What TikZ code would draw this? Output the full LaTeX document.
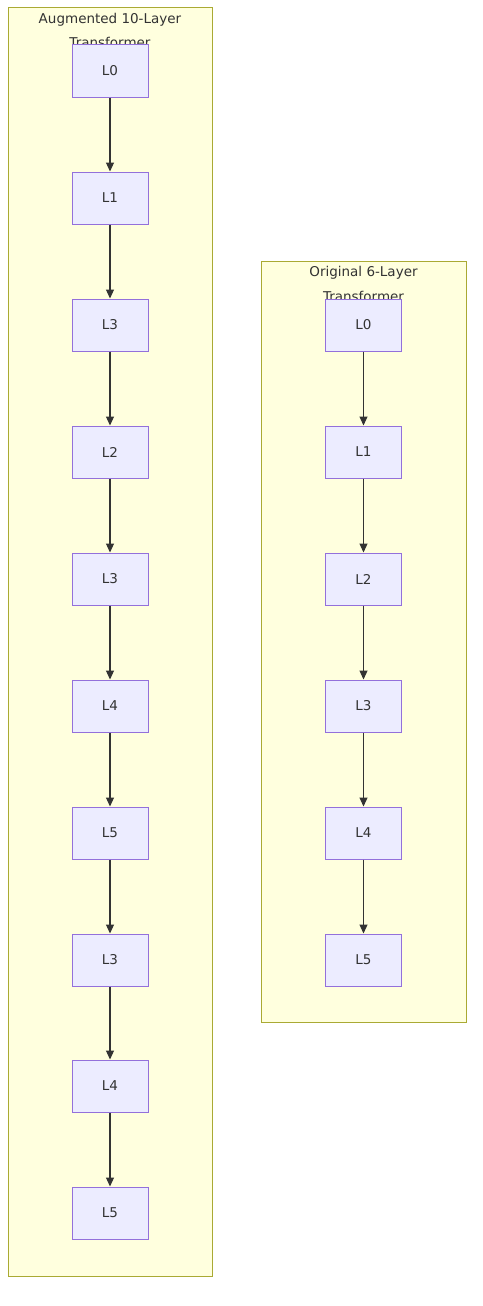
\documentclass[tikz,border=0pt]{standalone}
\usepackage{fontspec}
\setmainfont{DejaVu Sans}
\usetikzlibrary{arrows.meta}
\definecolor{clfill}{HTML}{FFFFDE}
\definecolor{cldraw}{HTML}{AAAA33}
\definecolor{ndfill}{HTML}{ECECFF}
\definecolor{nddraw}{HTML}{9370DB}
\definecolor{edge}{HTML}{333333}
\tikzset{
  cluster/.style={draw=cldraw, fill=clfill, line width=1pt},
  layer/.style={draw=nddraw, fill=ndfill, line width=1pt, minimum width=76pt, minimum height=52pt, inner sep=0pt, font=\fontsize{13.5}{16}\selectfont, text=edge},
  ttl/.style={font=\fontsize{13.5}{16}\selectfont, text=edge, align=center},
  link/.style={draw=edge, line width=1.1pt, -{Triangle[length=9pt,width=8pt]}}
}
\begin{document}
\begin{tikzpicture}[x=1pt,y=-1pt]
\useasboundingbox (0,0) rectangle (482,1306);
% clusters
\draw[cluster] (8,8) rectangle (212,1276);
\draw[cluster] (261.5,261.5) rectangle (466,1022);
\node[ttl] (ta1) at (110,20) {Augmented 10-Layer};
\node[ttl] (ta2) at (110,42) {Transformer};
\node[ttl] (tb1) at (363.5,273) {Original 6-Layer};
\node[ttl] (tb2) at (363.5,296) {Transformer};
% left nodes
\node[layer] (a0) at (110,71) {L0};
\node[layer] (a1) at (110,198) {L1};
\node[layer] (a2) at (110,325) {L3};
\node[layer] (a3) at (110,452) {L2};
\node[layer] (a4) at (110,579) {L3};
\node[layer] (a5) at (110,706) {L4};
\node[layer] (a6) at (110,833) {L5};
\node[layer] (a7) at (110,960) {L3};
\node[layer] (a8) at (110,1086) {L4};
\node[layer] (a9) at (110,1213) {L5};
% right nodes
\node[layer] (b0) at (363.5,325) {L0};
\node[layer] (b1) at (363.5,452) {L1};
\node[layer] (b2) at (363.5,579) {L2};
\node[layer] (b3) at (363.5,706) {L3};
\node[layer] (b4) at (363.5,833) {L4};
\node[layer] (b5) at (363.5,960) {L5};
% edges
\foreach \i/\j in {0/1,1/2,2/3,3/4,4/5,5/6,6/7,7/8,8/9} \draw[link] (a\i) -- (a\j);
\foreach \i/\j in {0/1,1/2,2/3,3/4,4/5} \draw[link] (b\i) -- (b\j);
\end{tikzpicture}
\end{document}
